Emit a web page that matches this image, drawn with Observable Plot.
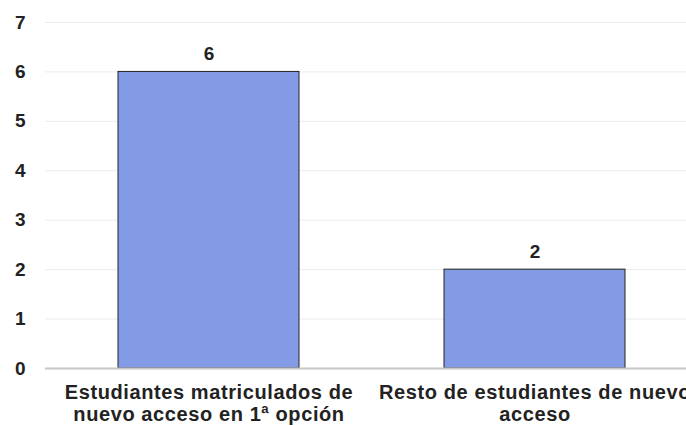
<!DOCTYPE html>
<html><head><meta charset="utf-8">
<script src="https://cdn.jsdelivr.net/npm/d3@7"></script>
<script src="https://cdn.jsdelivr.net/npm/@observablehq/plot@0.6"></script>
<style>
html,body{margin:0;padding:0;background:#fff;overflow:hidden;width:686px;height:425px;}
svg{font-family:"Liberation Sans",Arial,sans-serif;}
g[aria-label="x-axis tick label"] text{letter-spacing:0.6px;}
</style></head><body>
<div id="chart"></div>
<script>
const categories = ["Estudiantes matriculados de\nnuevo acceso en 1ª opción", "Resto de estudiantes de nuevo\nacceso"];
const values = [6, 2];
const yTicks = [0,1,2,3,4,5,6,7];
const data = categories.map((c,i)=>({cat:c, val:values[i]}));
const chart = Plot.plot({
  width: 697, height: 425,
  marginLeft: 45, marginRight: 0, marginTop: 22, marginBottom: 57,
  style: {fontFamily: '"Liberation Sans", Arial, sans-serif', background: "#fff", maxWidth: "none", overflow: "visible"},
  x: {domain: categories, paddingInner: 0.445, paddingOuter: 0.2225, label: null},
  y: {domain: [0,7], label: null},
  marks: [
    Plot.gridY(yTicks, {stroke: "#ebebeb", strokeOpacity: 1, strokeWidth: 1}),
    Plot.barY(data, {x: "cat", y: "val", fill: "#839be4", stroke: "#222", strokeWidth: 1}),
    Plot.ruleY([0], {stroke: "#c8c8c8", strokeWidth: 2}),
    Plot.text(data, {x: "cat", y: "val", text: d => String(d.val), dy: -18, fontSize: 19, fontWeight: "bold", fill: "#222"}),
    Plot.axisY(yTicks, {tickSize: 0, tickPadding: 20, fontSize: 19, fontWeight: "bold", color: "#222", textAnchor: "end", tickFormat: d => d}),
    Plot.axisX({tickSize: 0, tickPadding: 15, fontSize: 20, fontWeight: "bold", color: "#222", lineHeight: 1.1, tickFormat: d => d})
  ]
});
document.getElementById("chart").appendChild(chart);
</script>
</body></html>
